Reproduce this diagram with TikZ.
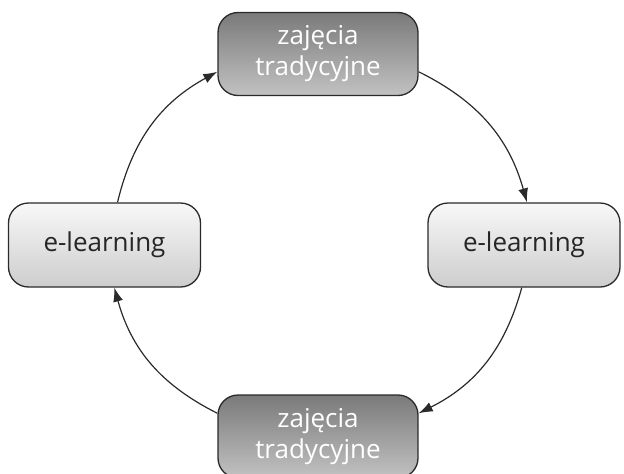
\documentclass[tikz,border=0pt]{standalone}
\usepackage{fontspec}
\setmainfont{Open Sans}
\usetikzlibrary{arrows.meta,shadings}
\definecolor{darktop}{HTML}{7A7A7A}
\definecolor{darkbot}{HTML}{C2C2C2}
\definecolor{lighttop}{HTML}{F8F8F8}
\definecolor{lightbot}{HTML}{CDCDCD}
\definecolor{edge}{HTML}{2A2A2A}
\tikzset{
  box/.style={draw=edge, line width=1.3pt, rounded corners=20pt, align=center,
    font=\fontsize{26}{31}\selectfont, inner sep=0pt},
  darkbox/.style={box, top color=darktop, bottom color=darkbot, text=white,
    minimum width=200pt, minimum height=83pt},
  lightbox/.style={box, top color=lighttop, bottom color=lightbot, text=black!85,
    minimum width=192pt, minimum height=84pt},
  arr/.style={draw=edge, line width=1.2pt, -{Latex[length=14pt,width=10pt]}, bend left=24}
}
\begin{document}
\begin{tikzpicture}[x=1pt,y=-1pt]
\useasboundingbox (0,0) rectangle (624,474);
\node[darkbox] (top) at (318,54) {zajęcia\\tradycyjne};
\node[lightbox] (right) at (524,245) {e-learning};
\node[lightbox] (left) at (104.5,245) {e-learning};
\node[darkbox] (bottom) at (318,436.5) {zajęcia\\tradycyjne};
\draw[arr] (top.-10) to (right.86);
\draw[arr] (right.-93) to (bottom.13);
\draw[arr] (bottom.167) to (left.-77);
\draw[arr] (left.73) to (top.190);
\end{tikzpicture}
\end{document}
